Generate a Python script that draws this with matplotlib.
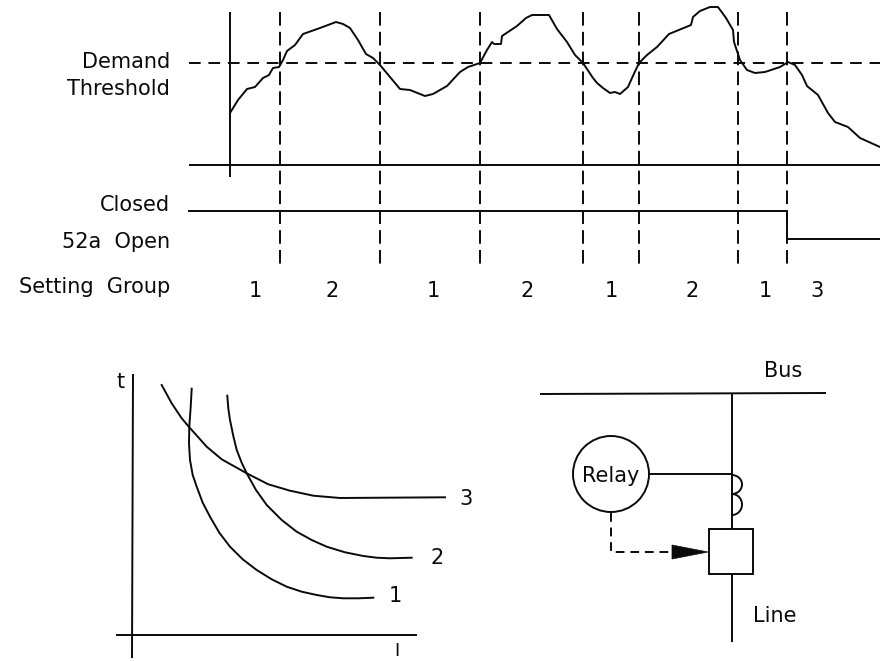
import matplotlib
matplotlib.use("Agg")
import matplotlib.pyplot as plt
from matplotlib.patches import Circle, Rectangle, Arc, Polygon

INK = "#0a0a0a"
LW = 1.4
FS = 15

demand_x = [230,238,247,255,263,269,273,279,283,287,295,303,320,328,336,343,350,358,366,373,380,390,400,410,425,433,440,447,460,468,480,487,492,494,501,502,517,526,532,549,557,567,575,583,593,597,603,610,615,620,628,632,639,647,657,669,691,693,700,710,718,726,733,734,740,747,755,765,780,788,795,802,807,818,828,835,848,860,880]
demand_y = [113,100,89,87,78,75,68,67,60,51,45,34,28,25,22,24,28,40,54,58,65,77,89,90,96,94,90,86,72,67,63,50,42,44,44,36,26,18,15,15,29,42,55,63,78,83,88,93,92,94,87,78,63,55,47,34,25,17,11,7,7,18,30,42,60,70,73,72,67,62,65,75,86,95,113,122,127,138,147]
threshold_y = 63
base_y = 165
switch_x = [280,380,480,583,639,738,787]
breaker_x = [189,787,787,880]
breaker_y = [211,211,239,239]
group_labels = ["1","2","1","2","1","2","1","3"]
group_x = [255,332,433,527,611,692,765,817]

curve1_x = [191.7,190.7,189.3,189,190,192.7,196.7,202.7,210,219.3,230,242.7,256.7,271.7,286.7,301.7,316.7,330,343.3,358.3,373.3]
curve1_y = [388.7,406.7,426.7,443.3,460,475,486.7,502.7,516.7,532.7,546.7,559.3,570,579.3,586.7,591.7,595,597.3,598.3,598.3,597.7]
curve2_x = [227.3,228.3,230,233.3,236.7,241.7,246.7,256,266.7,281.7,296.7,311.7,326.7,345,363.3,376.7,390,411.7]
curve2_y = [395.7,408.3,420,436,450,462.7,473.3,490,505,520,531.7,540,546.7,552.3,556,557.7,558.3,557.7]
curve3_x = [161.7,171.7,181.7,189.3,198.3,206.7,221.7,246.7,268.3,290,313.3,340,383.3,445]
curve3_y = [385,403.3,418.3,427.3,437.3,446.7,459.3,473.3,484.3,490.7,495.7,498,497.7,497.3]

fig = plt.figure(figsize=(8.8, 6.61), dpi=100, facecolor="white")
ax = fig.add_axes([0, 0, 1, 1])
ax.set_xlim(0, 880)
ax.set_ylim(661, 0)
ax.axis("off")

solid = dict(color=INK, lw=LW, solid_capstyle="butt")
dash_h = dict(color=INK, lw=LW, dashes=(6, 4), dash_capstyle="butt")
dash_v = dict(color=INK, lw=LW, dashes=(7, 3.2), dash_capstyle="butt")

# timing diagram
ax.plot([230, 230], [12, 177], **solid)
for x in switch_x:
    ax.plot([x, x], [12, 267], **dash_v)
ax.plot([189, 880], [threshold_y, threshold_y], **dash_h)
ax.plot([189, 880], [base_y, base_y], **solid)
ax.plot(demand_x, demand_y, color=INK, lw=LW, solid_joinstyle="round")
ax.plot(breaker_x, breaker_y, color=INK, lw=LW, solid_joinstyle="miter")

txt = dict(color=INK, fontsize=FS, family="DejaVu Sans", fontweight="normal")
for s, y in [("Demand", 62), ("Threshold", 89), ("Closed", 205), ("52a  Open", 242), ("Setting  Group", 287)]:
    ax.text(170, y, s, ha="right", va="center", **txt)
for s, x in zip(group_labels, group_x):
    ax.text(x, 291, s, ha="center", va="center", **txt)

# time-current curves
ax.plot([133, 132], [374, 658], **solid)
ax.plot([116, 417], [635, 635], **solid)
for cx, cy in [(curve1_x, curve1_y), (curve2_x, curve2_y), (curve3_x, curve3_y)]:
    ax.plot(cx, cy, color=INK, lw=LW)
ax.text(121, 382, "t", ha="center", va="center", **txt)
ax.text(397, 656, "I", ha="center", va="baseline", color=INK, fontsize=FS - 2, family="DejaVu Sans")
ax.text(466, 499, "3", ha="center", va="center", **txt)
ax.text(437, 558, "2", ha="center", va="center", **txt)
ax.text(395, 596, "1", ha="center", va="center", **txt)

# one-line diagram
ax.plot([540, 826], [394, 393], **solid)
ax.plot([732, 732], [393, 529], **solid)
ax.plot([732, 732], [574, 642], **solid)
ax.add_patch(Rectangle((709, 529), 44, 45, fill=False, ec=INK, lw=LW))
ax.add_patch(Circle((611, 474), 38, fill=False, ec=INK, lw=LW))
ax.plot([649, 732], [474, 474], **solid)
ax.add_patch(Arc((732, 484.5), 20, 19, theta1=-90, theta2=90, ec=INK, lw=LW))
ax.add_patch(Arc((732, 504.5), 20, 21, theta1=-90, theta2=90, ec=INK, lw=LW))
ax.plot([611, 611, 672], [513, 552, 552], color=INK, lw=LW, dashes=(4.5, 3), dash_capstyle="butt")
ax.add_patch(Polygon([(672, 545), (708, 552), (672, 559)], closed=True, fc=INK, ec=INK, lw=0.5))
ax.text(611, 476, "Relay", ha="center", va="center", **txt)
ax.text(783, 371, "Bus", ha="center", va="center", **txt)
ax.text(775, 616, "Line", ha="center", va="center", **txt)

fig.savefig("out.png", dpi=100, facecolor="white")
